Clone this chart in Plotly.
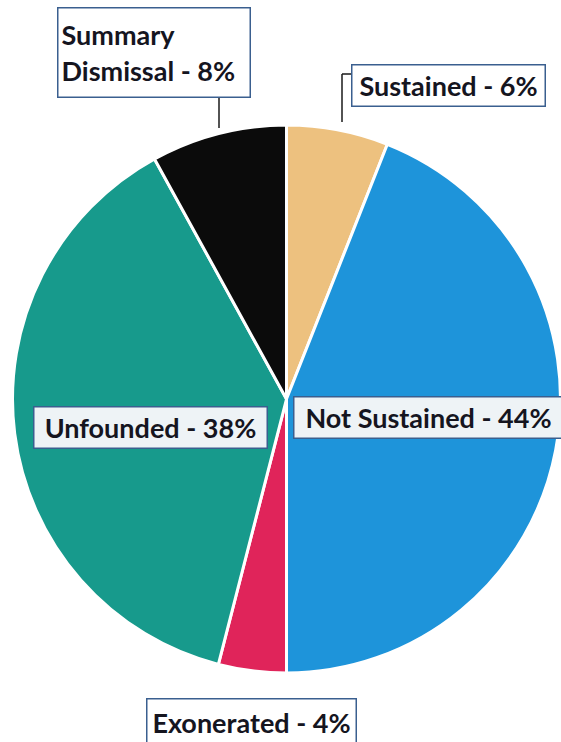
import plotly.graph_objects as go

# Complaint dispositions, clockwise from 12 o'clock
categories = ["Sustained", "Not Sustained", "Exonerated", "Unfounded", "Summary Dismissal"]
shares = [6, 44, 4, 38, 8]
colors = ["#EDC17F", "#1E94DA", "#E0245A", "#179A8C", "#0B0B0B"]

W, H = 561, 742

fig = go.Figure(
    go.Pie(
        labels=categories,
        values=shares,
        sort=False,
        direction="clockwise",
        rotation=0,
        marker=dict(colors=colors, line=dict(color="white", width=3)),
        textinfo="none",
        hoverinfo="label+percent",
        showlegend=False,
        domain=dict(x=[0.0214, 1.0], y=[0.093, 0.8315]),
    )
)


def px(x):
    return x / W


def py(y):
    return 1 - y / H


label_font = dict(family="Lato", size=27, color="#15151F", weight="bold")

# Callout boxes: (text, centre x, centre y, width, height, align, background)
callouts = [
    (f"{categories[4]}".replace(" ", "<br>", 1) + f" - {shares[4]}%", 154, 52, 185, 82, "left", "white"),
    (f"{categories[0]} - {shares[0]}%", 448, 85, 186, 34, "center", "white"),
    (f"{categories[3]} - {shares[3]}%", 150, 427, 226, 34, "center", "#EEF3F6"),
    (f"{categories[1]} - {shares[1]}%", 429, 417, 262, 34, "center", "#EEF3F6"),
    (f"{categories[2]} - {shares[2]}%", 251, 722, 202, 40, "center", "white"),
]

for text, cx, cy, w, h, align, bg in callouts:
    fig.add_annotation(
        x=px(cx), y=py(cy), xref="paper", yref="paper",
        text=text, showarrow=False, align=align,
        width=w, height=h, font=label_font,
        bgcolor=bg, bordercolor="#3A5F8F", borderwidth=1.5, borderpad=3,
        xanchor="center", yanchor="middle",
    )

# Leader lines from the top callouts down to their slices
line_style = dict(color="#1A1A1A", width=1.5)
fig.add_shape(type="line", xref="paper", yref="paper",
              x0=px(219), y0=py(97), x1=px(219), y1=py(128), line=line_style)
fig.add_shape(type="line", xref="paper", yref="paper",
              x0=px(351), y0=py(74), x1=px(342), y1=py(74), line=line_style)
fig.add_shape(type="line", xref="paper", yref="paper",
              x0=px(342), y0=py(74), x1=px(342), y1=py(122), line=line_style)

fig.update_layout(
    width=W, height=H,
    margin=dict(l=0, r=0, t=0, b=0),
    paper_bgcolor="white",
    plot_bgcolor="white",
)

fig.write_html("out.html")
